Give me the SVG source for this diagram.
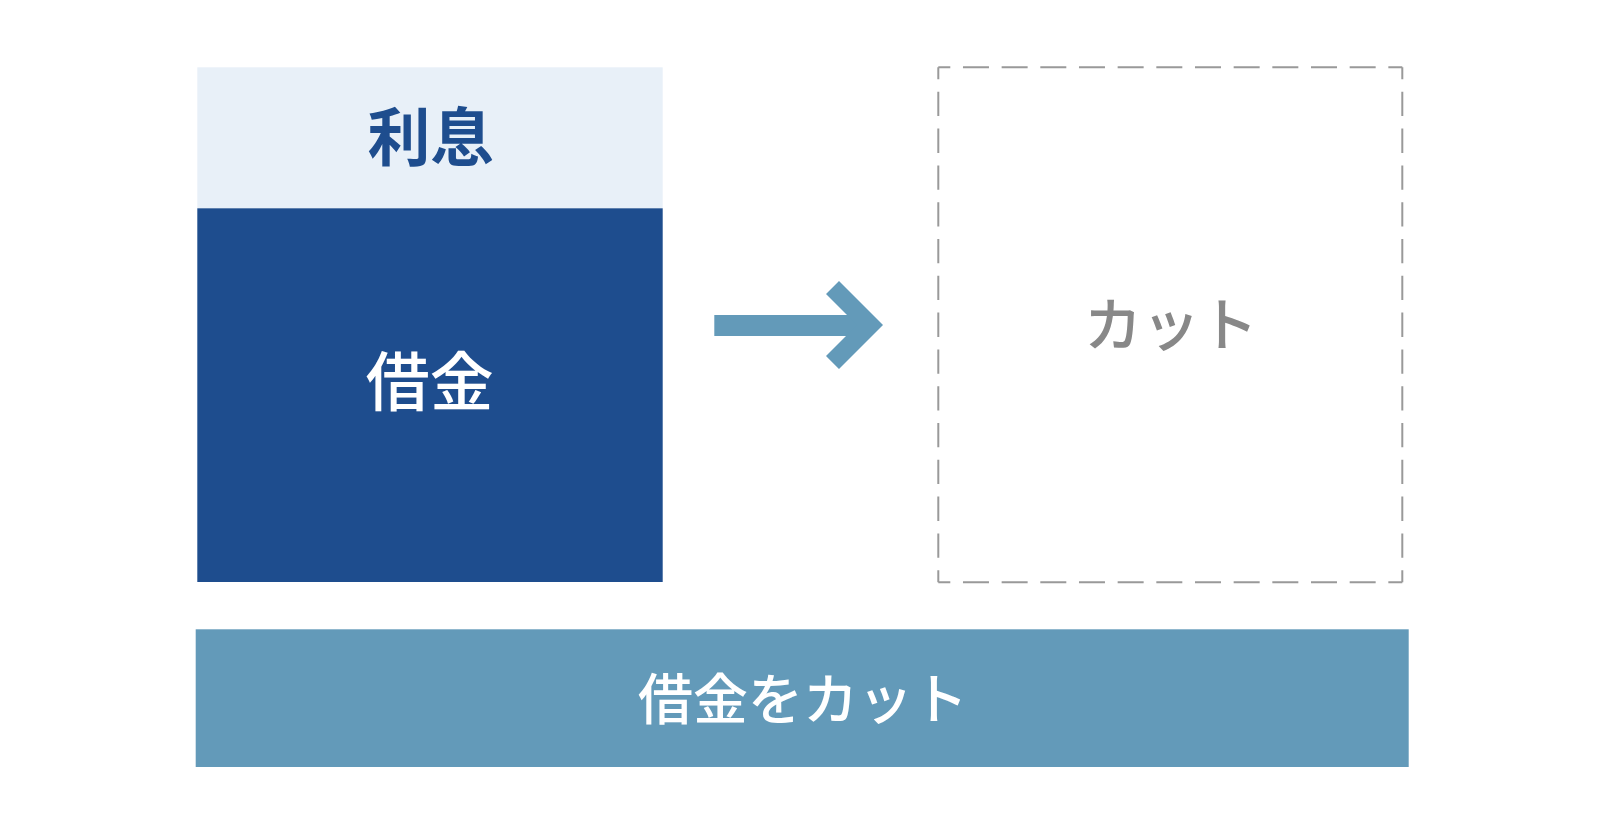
<svg xmlns="http://www.w3.org/2000/svg" width="1604" height="833" viewBox="0 0 1604 833">
<style>
.t{font-family:"Noto Sans CJK JP","Noto Sans CJK SC",sans-serif;text-anchor:middle;dominant-baseline:central}
.dash{stroke:#999;stroke-width:2;fill:none}
</style>
<rect width="1604" height="833" fill="#fff"/>
<g id="interest">
<rect x="197.3" y="67.3" width="465.4" height="141" fill="#e8f0f8"/>
<text class="t" x="430.5" y="132" font-size="63" font-weight="700" fill="#1e4d8e">利息</text>
</g>
<g id="debt">
<rect x="197.3" y="208.3" width="465.4" height="373.7" fill="#1e4d8e"/>
<text class="t" x="429.7" y="376.5" font-size="64" font-weight="500" fill="#fff">借金</text>
</g>
<g id="connectors">
<rect x="714.3" y="315" width="145" height="21" fill="#639ab9"/>
<polygon points="839,281 883,325 839,369 826,356 857,325 826,294" fill="#639ab9"/>
</g>
<g id="cut">
<line class="dash" x1="938.3" y1="67.3" x2="1402.3" y2="67.3" stroke-dasharray="26 12.67" stroke-dashoffset="14"/>
<line class="dash" x1="938.3" y1="582.3" x2="1402.3" y2="582.3" stroke-dasharray="26 12.67" stroke-dashoffset="14"/>
<line class="dash" x1="938.3" y1="67.3" x2="938.3" y2="582.3" stroke-dasharray="24.3 12.5" stroke-dashoffset="12.3"/>
<line class="dash" x1="1402.3" y1="67.3" x2="1402.3" y2="582.3" stroke-dasharray="24.3 12.5" stroke-dashoffset="12.3"/>
<text class="t" x="1171" y="320.5" font-size="58" font-weight="500" fill="#888">カット</text>
</g>
<g id="summary">
<rect x="195.7" y="629.3" width="1213" height="137.7" fill="#639ab9"/>
<text class="t" x="803" y="695" font-size="55" font-weight="500" fill="#fff">借金をカット</text>
</g>
</svg>
